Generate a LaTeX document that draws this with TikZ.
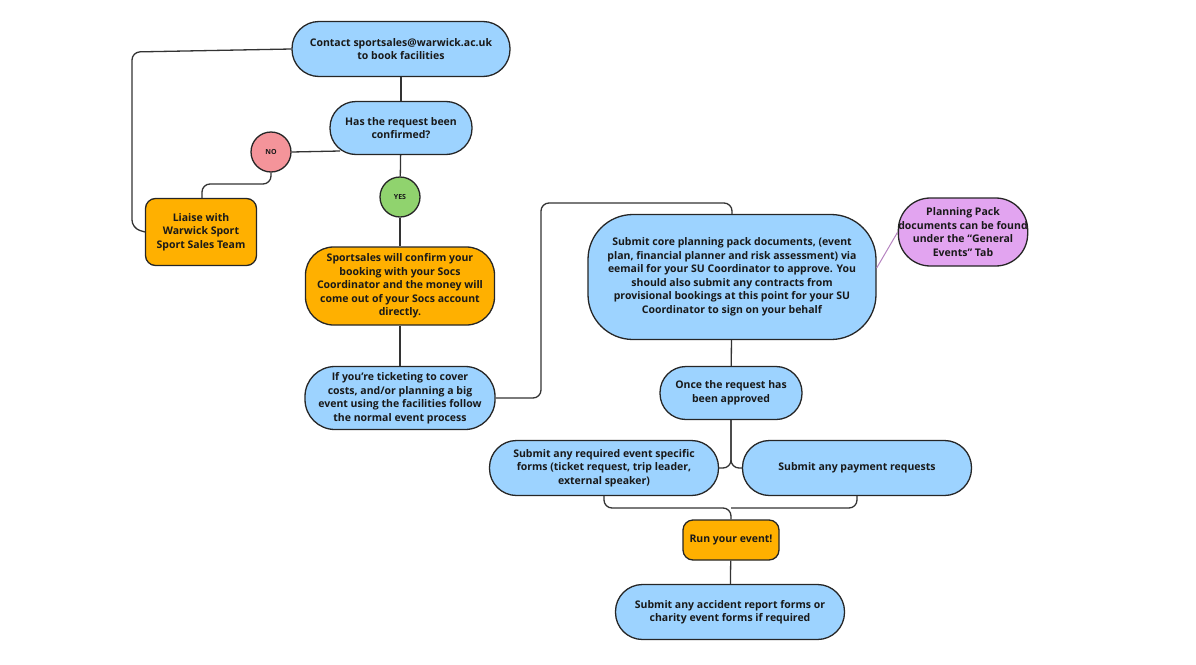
\documentclass[tikz,border=0pt]{standalone}
\usepackage{fontspec}
\setmainfont{Open Sans}[BoldFont={Open Sans Bold}]
\begin{document}
\begin{tikzpicture}[x=1pt,y=-1pt,
  box/.style={draw=black!85,line width=1.3pt,align=center,inner sep=0pt,font=\fontsize{10.5}{13.5}\selectfont\bfseries,text=black!90},
  blue/.style={box,fill=bluef},
  org/.style={box,fill=orgf},
  ln/.style={draw=black!80,line width=1.3pt,rounded corners=8pt}]
\definecolor{bluef}{HTML}{9DD3FF}
\definecolor{orgf}{HTML}{FFB000}
\definecolor{redf}{HTML}{F4949A}
\definecolor{grnf}{HTML}{90D36E}
\definecolor{purf}{HTML}{E2A4F0}
\useasboundingbox (0,0) rectangle (1196,664);
\node[blue,minimum width=218pt,minimum height=55pt,rounded corners=27pt] (contact) at (401,49) {Contact sportsales@warwick.ac.uk\\to book facilities};
\node[blue,minimum width=142pt,minimum height=53pt,rounded corners=26pt] (conf) at (401,128) {Has the request been\\confirmed?};
\node[box,circle,fill=redf,minimum size=40pt,font=\fontsize{7}{8}\selectfont\bfseries] (no) at (271,152) {NO};
\node[box,circle,fill=grnf,minimum size=40pt,font=\fontsize{7}{8}\selectfont\bfseries] (yes) at (400,197) {YES};
\node[org,minimum width=111pt,minimum height=67pt,rounded corners=10pt] (liaise) at (201,232) {Liaise with\\Warwick Sport\\Sport Sales Team};
\node[org,minimum width=189pt,minimum height=78pt,rounded corners=28pt] (ss) at (400,286) {Sportsales will confirm your\\booking with your Socs\\Coordinator and the money will\\come out of your Socs account\\directly.};
\node[blue,minimum width=190pt,minimum height=63pt,rounded corners=30pt] (tick) at (400,398) {If you're ticketing to cover\\costs, and/or planning a big\\event using the facilities follow\\the normal event process};
\node[blue,minimum width=288pt,minimum height=125pt,rounded corners=45pt] (core) at (732,277) {Submit core planning pack documents, (event\\plan, financial planner and risk assessment) via\\eemail for your SU Coordinator to approve. You\\should also submit any contracts from\\provisional bookings at this point for your SU\\Coordinator to sign on your behalf};
\node[box,fill=purf,minimum width=120pt,minimum height=68pt,rounded corners=32pt] (pp) at (963,232) {Planning Pack\\documents can be found\\under the ``General\\Events'' Tab};
\node[blue,minimum width=142pt,minimum height=53pt,rounded corners=26pt] (once) at (731,393) {Once the request has\\been approved};
\node[blue,minimum width=229pt,minimum height=55pt,rounded corners=27pt] (req) at (604,468) {Submit any required event specific\\forms (ticket request, trip leader,\\external speaker)};
\node[blue,minimum width=229pt,minimum height=55pt,rounded corners=27pt] (pay) at (857,468) {Submit any payment requests};
\node[org,minimum width=96pt,minimum height=40pt,rounded corners=10pt] (run) at (731,540) {Run your event!};
\node[blue,minimum width=229pt,minimum height=55pt,rounded corners=27pt] (acc) at (730,612) {Submit any accident report forms or\\charity event forms if required};
\coordinate (j1) at (731,508);
\begin{scope}[on background layer/.try]
\end{scope}
\draw[ln] (contact.west) -- (132,52) -- (132,228) -- (liaise.west);
\draw[ln] (contact) -- (conf);
\draw[ln] (no.east) -- (340,151);
\draw[ln] (no.south) -- (271,184) -- (202,184) -- (liaise.north -| 202,0);
\draw[ln] (conf) -- (yes);
\draw[ln] (yes) -- (ss);
\draw[ln] (ss) -- (tick);
\draw[ln] (tick.east) -- (541,398) -- (541,203) -- (732,203) -- (core.north);
\draw[ln] (core) -- (once);
\draw[ln] (once.south) |- (req.east);
\draw[ln] (once.south) |- (pay.west);
\draw[ln] (req.south) |- (j1) -- (run.north);
\draw[ln] (pay.south) |- (j1);
\draw[ln] (run) -- (acc);
\draw[draw=purf!80!black,line width=1pt] (pp.west) -- (core.east |- 0,268);
\end{tikzpicture}
\end{document}
